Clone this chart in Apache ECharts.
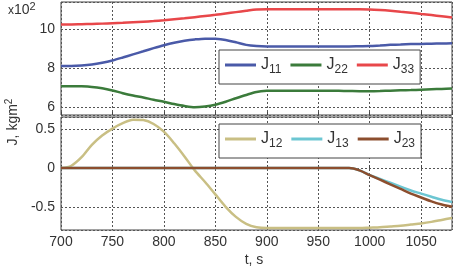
<!DOCTYPE html>
<html>
<head>
<meta charset="utf-8">
<script src="https://cdn.jsdelivr.net/npm/echarts@6/dist/echarts.min.js"></script>
<style>
  html, body { margin: 0; padding: 0; background: #fff; }
  #chart { width: 453px; height: 270px; }
</style>
</head>
<body>
<div id="chart"></div>
<script>
// 时间轴 (s)
const time = [700, 710, 720, 730, 740, 750, 760, 770, 780, 790,
              800, 810, 820, 830, 840, 850, 860, 870, 880, 890,
              900, 910, 920, 930, 940, 950, 960, 970, 980, 990,
              1000, 1010, 1020, 1030, 1040, 1050, 1060, 1070, 1080];

// 主惯量 (x10^2 kgm^2)
const j11 = [8.12, 8.12, 8.14, 8.19, 8.28, 8.40, 8.55, 8.71, 8.87, 9.03,
             9.18, 9.31, 9.41, 9.48, 9.52, 9.51, 9.45, 9.33, 9.20, 9.14,
             9.12, 9.12, 9.12, 9.12, 9.12, 9.12, 9.12, 9.12, 9.12, 9.13,
             9.14, 9.17, 9.20, 9.22, 9.24, 9.25, 9.26, 9.27, 9.28];
const j22 = [7.08, 7.08, 7.07, 7.04, 6.97, 6.86, 6.72, 6.60, 6.50, 6.38,
             6.28, 6.16, 6.06, 6.00, 6.04, 6.13, 6.28, 6.46, 6.63, 6.78,
             6.84, 6.85, 6.85, 6.85, 6.85, 6.85, 6.85, 6.84, 6.83, 6.82,
             6.82, 6.83, 6.85, 6.87, 6.88, 6.90, 6.92, 6.94, 6.96];
const j33 = [10.25, 10.25, 10.26, 10.27, 10.29, 10.31, 10.33, 10.36, 10.39, 10.42,
             10.46, 10.51, 10.56, 10.62, 10.68, 10.74, 10.81, 10.88, 10.95, 11.01,
             11.03, 11.03, 11.03, 11.03, 11.03, 11.03, 11.03, 11.03, 11.03, 11.03,
             11.02, 10.99, 10.95, 10.90, 10.85, 10.79, 10.73, 10.67, 10.61];

// 惯性积 (x10^2 kgm^2)
const j12 = [0, 0.03, 0.14, 0.30, 0.42, 0.51, 0.58, 0.625, 0.62, 0.57,
             0.47, 0.32, 0.15, -0.03, -0.18, -0.34, -0.50, -0.63, -0.72, -0.765,
             -0.775, -0.775, -0.775, -0.775, -0.775, -0.775, -0.775, -0.775, -0.775, -0.775,
             -0.77, -0.765, -0.755, -0.745, -0.73, -0.715, -0.695, -0.67, -0.645];
const j13 = [0, 0, 0, 0, 0, 0, 0, 0, 0, 0,
             0, 0, 0, 0, 0, 0, 0, 0, 0, 0,
             0, 0, 0, 0, 0, 0, 0, 0, 0, -0.03,
             -0.09, -0.14, -0.19, -0.24, -0.29, -0.33, -0.37, -0.41, -0.44];
const j23 = [0, 0, 0, 0, 0, 0, 0, 0, 0, 0,
             0, 0, 0, 0, 0, 0, 0, 0, 0, 0,
             0, 0, 0, 0, 0, 0, 0, 0, 0, -0.03,
             -0.09, -0.15, -0.21, -0.27, -0.33, -0.38, -0.43, -0.47, -0.50];

const font = 'Liberation Sans, Arial, sans-serif';
const textColor = '#333';

function pairs(ys) {
    return ys.map((y, i) => [time[i], y]);
}

(function () {
    let myChart = echarts.init(document.getElementById('chart'));

    const gridLine = { show: true, lineStyle: { color: '#555', type: [2, 2], width: 1 } };
    const legendBase = {
        left: 219,
        orient: 'horizontal',
        backgroundColor: '#fff',
        borderColor: '#444',
        borderWidth: 1,
        borderRadius: 0,
        padding: [7, 6, 8, 6],
        itemWidth: 31,
        itemHeight: 3,
        itemGap: 9,
        icon: 'rect',
        selectedMode: false,
        formatter: function (name) {
            return '{j|J}{s|' + name.slice(1) + '}';
        },
        textStyle: {
            fontFamily: font,
            color: textColor,
            rich: {
                j: { fontSize: 16, lineHeight: 22, fontFamily: font, color: textColor },
                s: { fontSize: 12, lineHeight: 12, verticalAlign: 'bottom', fontFamily: font, color: textColor }
            }
        }
    };

    function line(name, data, color, xi) {
        return {
            name: name,
            type: 'line',
            xAxisIndex: xi,
            yAxisIndex: xi,
            data: pairs(data),
            symbol: 'none',
            smooth: 0.3,
            animation: false,
            lineStyle: { color: color, width: 2.5 },
            itemStyle: { color: color }
        };
    }

    const yLabel = { showMinLabel: false, showMaxLabel: false, margin: 6, fontSize: 14, fontFamily: font, color: textColor };

    let option = {
        backgroundColor: '#fff',
        animation: false,
        grid: [
            { left: 61, right: 1, top: 2, height: 113, show: true, borderColor: '#444', borderWidth: 1, backgroundColor: 'transparent' },
            { left: 61, right: 1, top: 117, height: 113, show: true, borderColor: '#444', borderWidth: 1, backgroundColor: 'transparent' }
        ],
        xAxis: [0, 1].map(i => ({
            type: 'value',
            gridIndex: i,
            min: 700,
            max: 1080,
            interval: 50,
            axisLine: { show: false },
            axisTick: { show: true, inside: true, length: 3, lineStyle: { color: '#444' } },
            axisLabel: {
                show: i === 1,
                showMaxLabel: false,
                margin: 5,
                fontSize: 14,
                fontFamily: font,
                color: textColor,
                formatter: v => String(v)
            },
            splitLine: gridLine
        })),
        yAxis: [
            {
                // 不设 interval, 让刻度落在 6, 8, 10
                type: 'value', gridIndex: 0, min: 5.6, max: 11.4, splitNumber: 3,
                axisLine: { show: false },
                axisTick: { show: false },
                axisLabel: yLabel,
                splitLine: gridLine
            },
            {
                type: 'value', gridIndex: 1, min: -0.8, max: 0.66, splitNumber: 3,
                axisLine: { show: false },
                axisTick: { show: false },
                axisLabel: yLabel,
                splitLine: gridLine
            }
        ],
        legend: [
            Object.assign({}, legendBase, { top: 50, data: ['J11', 'J22', 'J33'] }),
            Object.assign({}, legendBase, { top: 124, data: ['J12', 'J13', 'J23'] })
        ],
        graphic: [
            {
                type: 'text', left: 8, top: 1,
                style: {
                    text: '{a|x}{b|10}{c|2}',
                    rich: {
                        a: { fontSize: 12, fontFamily: font, fill: textColor, lineHeight: 16, verticalAlign: 'bottom' },
                        b: { fontSize: 14, fontFamily: font, fill: textColor, lineHeight: 16, verticalAlign: 'bottom' },
                        c: { fontSize: 11, fontFamily: font, fill: textColor, lineHeight: 11, verticalAlign: 'top' }
                    }
                }
            },
            {
                type: 'text', x: 12, y: 122, rotation: Math.PI / 2,
                style: {
                    text: '{a|J, kgm}{b|2}',
                    align: 'center',
                    verticalAlign: 'middle',
                    rich: {
                        a: { fontSize: 14, fontFamily: font, fill: textColor, lineHeight: 16, verticalAlign: 'bottom' },
                        b: { fontSize: 10, fontFamily: font, fill: textColor, lineHeight: 10, verticalAlign: 'top' }
                    }
                }
            },
            {
                type: 'text', x: 254, y: 260,
                style: { text: 't, s', align: 'center', verticalAlign: 'middle', fontSize: 14, fontFamily: font, fill: textColor }
            }
        ],
        series: [
            line('J11', j11, '#4a5aa8', 0),
            line('J22', j22, '#3b7b3b', 0),
            line('J33', j33, '#e8474a', 0),
            line('J12', j12, '#c9bf84', 1),
            line('J13', j13, '#6cc6d2', 1),
            line('J23', j23, '#8c4e2e', 1)
        ]
    };

    myChart.setOption(option);

    window.addEventListener('resize', function () {
        myChart.resize();
    });
})();
</script>
</body>
</html>
